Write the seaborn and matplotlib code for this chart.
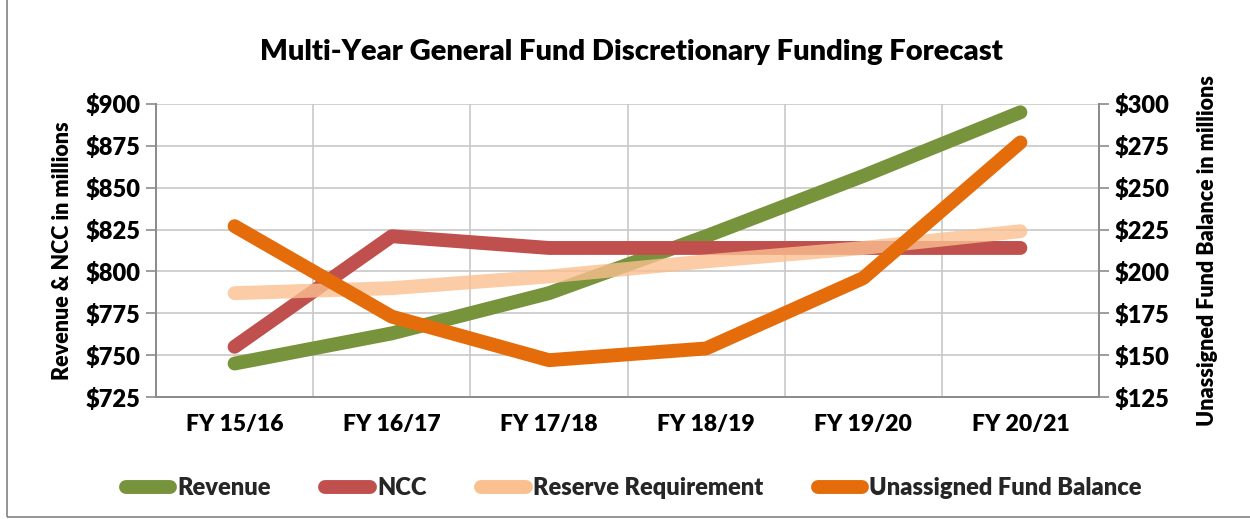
import matplotlib
matplotlib.use("Agg")
import matplotlib.pyplot as plt
import seaborn as sns
import pandas as pd
from matplotlib.lines import Line2D
from matplotlib.patches import Rectangle

years = ["FY 15/16", "FY 16/17", "FY 17/18", "FY 18/19", "FY 19/20", "FY 20/21"]
revenue = [745, 763, 787, 821, 857, 895]
ncc = [755, 821, 814, 814, 814, 814]
reserve = [187, 190, 197, 206, 214, 224]
unassigned = [227, 173, 147, 154, 196, 277]

left_ticks = [725, 750, 775, 800, 825, 850, 875, 900]
right_ticks = [125, 150, 175, 200, 225, 250, 275, 300]

c_rev = "#77933C"
c_ncc = "#C0504D"
c_res = "#FAC090"
c_una = "#E46C0A"

sns.set_theme(style="white")
plt.rcParams["font.family"] = ["Lato", "DejaVu Sans"]

df = pd.DataFrame({"year": years, "Revenue": revenue, "NCC": ncc,
                   "Reserve": reserve, "Unassigned": unassigned})
df["x"] = range(len(years))

fig = plt.figure(figsize=(12.5, 5.19), dpi=100)
ax = fig.add_axes([0.1248, 0.235, 0.7544, 0.5648])
ax2 = ax.twinx()

lw = 10
sns.lineplot(data=df, x="x", y="Revenue", ax=ax, color=c_rev, lw=lw, solid_capstyle="round", zorder=3)
sns.lineplot(data=df, x="x", y="NCC", ax=ax, color=c_ncc, lw=lw, solid_capstyle="round", zorder=4)
sns.lineplot(data=df, x="x", y="Reserve", ax=ax2, color=c_res, lw=lw, alpha=0.8, solid_capstyle="round", zorder=3)
sns.lineplot(data=df, x="x", y="Unassigned", ax=ax2, color=c_una, lw=lw, solid_capstyle="round", zorder=4)

ax.set_xlim(-0.5, len(years) - 0.5)
ax.set_ylim(725, 900)
ax2.set_ylim(125, 300)
ax.set_yticks(left_ticks)
ax.set_yticklabels([f"${v}" for v in left_ticks])
ax2.set_yticks(right_ticks)
ax2.set_yticklabels([f"${v}" for v in right_ticks])

ax.set_xticks(range(len(years)))
ax.set_xticklabels(years)
ax.set_xticks([i - 0.5 for i in range(len(years) + 1)], minor=True)
ax.tick_params(axis="x", which="major", length=0, pad=12)
ax.tick_params(axis="x", which="minor", length=6, width=1.2, color="#8c8c8c")
ax.grid(False)
ax2.grid(False)
ax.grid(True, axis="y", which="major", color="#c8c8c8", lw=1.2)
ax.grid(True, axis="x", which="minor", color="#c8c8c8", lw=1.2)
ax.tick_params(axis="y", which="major", length=7, width=1.2, color="#8c8c8c", left=True, pad=4)
ax2.tick_params(axis="y", which="major", length=7, width=1.2, color="#8c8c8c", right=True, pad=4)

for a in (ax, ax2):
    a.spines["top"].set_visible(False)
    for s in ["left", "right", "bottom"]:
        a.spines[s].set_color("#8c8c8c")
        a.spines[s].set_linewidth(1.3)

for lab in ax.get_yticklabels() + ax2.get_yticklabels():
    lab.set_fontsize(17)
    lab.set_fontweight("heavy")
    lab.set_color("black")
for lab in ax.get_xticklabels():
    lab.set_fontsize(16.5)
    lab.set_fontweight("heavy")
    lab.set_color("black")

ax.set_xlabel("")
ax.set_ylabel("Revenue & NCC in millions", fontsize=15.5, fontweight="heavy", color="black", labelpad=9)
ax2.set_ylabel("Unassigned Fund Balance in millions", fontsize=15.5, fontweight="heavy", color="black", labelpad=20)

fig.text(0.505, 0.9, "Multi-Year General Fund Discretionary Funding Forecast",
         ha="center", va="center", fontsize=21, fontweight="heavy", color="black")

handles = [Line2D([0], [0], color=c, lw=lw, solid_capstyle="round") for c in (c_rev, c_ncc, c_res, c_una)]
labels = ["Revenue", "NCC", "Reserve Requirement", "Unassigned Fund Balance"]
leg = fig.legend(handles, labels, loc="center", bbox_to_anchor=(0.507, 0.06), ncol=4, frameon=False,
                 handlelength=1.9, handletextpad=0.3, columnspacing=2.3,
                 prop={"weight": "heavy", "size": 17})

fig.patches.append(Rectangle((0.0056, 0.004), 1.2, 1.2, transform=fig.transFigure,
                             fill=False, edgecolor="#8c8c8c", lw=1.3))

fig.savefig("out.png", dpi=100)
